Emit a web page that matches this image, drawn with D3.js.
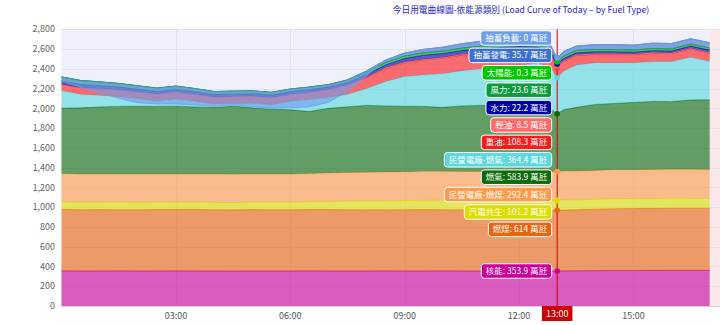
<!DOCTYPE html>
<html><head><meta charset="utf-8">
<script src="https://cdn.jsdelivr.net/npm/d3@7"></script>
<style>
html,body{margin:0;padding:0;background:#fff;}
svg{display:block;font-family:"Noto Sans CJK TC","Noto Sans",sans-serif;}
</style></head><body>
<svg id="c" width="720" height="325"></svg>
<script>
const times = ["00:00","00:30","01:00","01:30","02:00","02:30","03:00","03:30","04:00","04:30","05:00","05:30","06:00","06:30","07:00","07:30","08:00","08:30","09:00","09:30","10:00","10:30","11:00","11:30","12:00","12:30","12:50","13:00","13:10","13:30","14:00","14:30","15:00","15:30","16:00","16:30","17:00"];
const seriesNames = ["核能","燃煤","汽電共生","民營電廠-燃煤","燃氣","民營電廠-燃氣","重油","輕油","水力","風力","太陽能","抽蓄發電","抽蓄負載"];
const nuclear = [356,355,355,356,355,355,356,355,355,354,355,355,355,356,355,355,355,356,355,355,356,355,355,355,354,354,354,353.9,356,356,358,360,360,361,362,362,362];
const coal = [622,620,621,619,620,621,620,622,620,619,621,620,619,620,621,620,619,618,620,621,619,618,617,616,615,615,615,614,616,618,622,625,626,627,628,628,628];
const cogen = [76,75,74,74,73,73,74,73,73,74,73,74,75,78,82,86,88,90,92,94,96,97,98,99,100,101,101,101.2,101,100,100,101,102,101,102,101,100];
const ippCoal = [288,287,287,286,287,288,286,287,288,287,286,287,288,287,289,290,291,292,292,293,292,291,292,293,292,292,292,292.4,292,293,292,293,292,293,292,293,292];
const gas = [660,668,678,685,687,683,686,678,673,688,670,656,648,627,653,665,677,669,663,657,647,664,668,672,669,648,630,583.9,620,643,668,671,680,688,684,701,705];
const ippGas = [178,139,117,98,74,54,73,56,34,25,47,45,86,121,110,128,170,247,300,320,342,356,372,382,405,448,420,364.4,390,429,422,412,401,404,405,433,390];
const heavyOil = [63,65,68,70,72,72,72,72,72,72,72,72,72,75,80,90,110,130,140,150,155,158,160,160,155,130,120,108.3,100,95,85,85,82,82,80,82,80];
const lightOil = [0,0,0,0,0,0,0,0,0,0,0,0,0,0,0,2,5,8,8,8,8,8,8,8,8,8,8,8.5,8,8,8,8,8,8,8,8,8];
const hydro = [35,33,30,28,25,25,25,25,25,25,25,25,25,25,25,24,25,30,35,40,40,38,35,30,28,25,24,22.2,21,20,18,18,18,20,20,22,25];
const wind = [40,40,38,36,35,34,33,32,30,30,28,28,27,26,25,25,24,24,24,24,24,24,24,24,24,24,24,23.6,23,23,22,22,21,21,20,20,20];
const solar = [0,0,0,0,0,0,0,0,0,0,0,0,0.1,0.2,0.3,0.4,0.5,0.5,0.5,0.5,0.5,0.5,0.4,0.4,0.3,0.3,0.3,0.3,0.3,0.3,0.2,0.2,0.2,0.1,0.1,0,0];
const pumpGen = [0,0,0,0,0,0,0,0,0,0,0,0,0,0,0,5,15,25,30,35,40,45,50,50,50,45,45,35.7,48,45,50,50,50,55,55,55,55];
const pumpLoad = [-40,-70,-110,-150,-170,-160,-180,-165,-150,-140,-160,-160,-190,-200,-180,-120,-50,0,0,0,0,0,0,0,0,0,0,0,0,0,0,0,0,0,0,0,0];
const yTicks = [0,200,400,600,800,1000,1200,1400,1600,1800,2000,2200,2400,2600,2800];
const xTicks = ["03:00","06:00","09:00","12:00","15:00"];
const hoverTime = "13:00";
const unit = "萬瓩";
const titleText = "今日用電曲線圖-依能源類別 (Load Curve of Today – by Fuel Type)";

const colors = ["#cc0099","#e8650f","#dddd00","#ff9b48","#0b6a0b","#5ad8de","#ff1a1a","#ff6b6b","#0000a8","#0b9b3b","#00c800","#3a6fd4","#6d9eeb"];
const seriesData = [nuclear,coal,cogen,ippCoal,gas,ippGas,heavyOil,lightOil,hydro,wind,solar,pumpGen,pumpLoad];

const hrs = t => { const p = t.split(":"); return +p[0] + (+p[1])/60; };
const rows = times.map((t,i) => { const r = {t}; seriesNames.forEach((n,k)=> r[n] = seriesData[k][i]); return r; });

const svg = d3.select("#c");
const x = d3.scaleLinear().domain([0,24]).range([61.5, 976.6]);
const y = d3.scaleLinear().domain([0,2800]).range([306, 29.3]);
const plotTop = y(2800), plotBottom = y(0), plotLeft = x(0);
const dataEnd = x(hrs(times[times.length-1]));

svg.append("rect").attr("x",plotLeft).attr("y",plotTop).attr("width",dataEnd-plotLeft).attr("height",plotBottom-plotTop).attr("fill","#f0f0fa");
svg.append("rect").attr("x",dataEnd).attr("y",plotTop).attr("width",720-dataEnd).attr("height",plotBottom-plotTop).attr("fill","#fbe8ea");

svg.append("g").selectAll("line").data(yTicks).join("line")
  .attr("x1",plotLeft).attr("x2",720).attr("y1",d=>Math.round(y(d))+0.5).attr("y2",d=>Math.round(y(d))+0.5)
  .attr("stroke","#e2e2ea").attr("stroke-width",1);
svg.append("g").selectAll("line").data(xTicks).join("line")
  .attr("x1",d=>Math.round(x(hrs(d)))+0.5).attr("x2",d=>Math.round(x(hrs(d)))+0.5).attr("y1",plotTop).attr("y2",plotBottom)
  .attr("stroke","#e2e2ea").attr("stroke-width",1);

const stack = d3.stack().keys(seriesNames).offset(d3.stackOffsetNone);
const layers = stack(rows);
const area = d3.area().x(d=>x(hrs(d.data.t))).y0(d=>y(d[0])).y1(d=>y(d[1]));
const line = d3.line().x(d=>x(hrs(d.data.t))).y(d=>y(d[1]));
const g = svg.append("g");
layers.forEach((L,k)=>{
  g.append("path").attr("d",area(L)).attr("fill",colors[k]).attr("fill-opacity",0.62).attr("stroke","none");
  g.append("path").attr("d",line(L)).attr("fill","none").attr("stroke",colors[k]).attr("stroke-width",1).attr("stroke-opacity",0.8);
});

svg.append("g").selectAll("text").data(yTicks).join("text")
  .attr("x",55).attr("y",d=>y(d)).attr("dy","0.35em").attr("text-anchor","end")
  .attr("font-size",9).attr("fill","#666").text(d=>d3.format(",")(d));
svg.append("line").attr("x1",plotLeft).attr("x2",720).attr("y1",plotBottom+0.5).attr("y2",plotBottom+0.5).attr("stroke","#ccd6eb");

svg.append("g").selectAll("text").data(xTicks).join("text")
  .attr("x",d=>x(hrs(d))).attr("y",319).attr("text-anchor","middle")
  .attr("font-size",9).attr("fill","#555").text(d=>d);

svg.append("text").attr("x",521).attr("y",13).attr("text-anchor","middle").attr("font-size",8.7)
  .attr("fill","#2424cc").text(titleText);

const hi = times.indexOf(hoverTime);
const hx = x(hrs(hoverTime));
svg.append("line").attr("x1",hx).attr("x2",hx).attr("y1",plotTop).attr("y2",plotBottom).attr("stroke","#cc0000").attr("stroke-width",1);

layers.forEach((L,k)=>{
  svg.append("circle").attr("cx",hx).attr("cy",y(L[hi][1])).attr("r",2.8).attr("fill",colors[k]);
});

const xl = svg.append("g");
const xlt = xl.append("text").attr("x",hx).attr("y",317).attr("text-anchor","middle").attr("font-size",9).attr("fill","#fff").text(hoverTime);
const xw = xlt.node().getComputedTextLength()+8;
xl.insert("rect","text").attr("x",hx-xw/2).attr("y",plotBottom).attr("width",xw).attr("height",15).attr("fill","#cc0000");

const pitch = 17.4, boxH = 14.5;
let boxes = layers.map((L,k)=>({k, target:y(L[hi][1]), val: seriesData[k][hi]}));
boxes.sort((a,b)=> a.target-b.target || b.k-a.k);
let groups = boxes.map(b=>({items:[b], top:b.target-pitch/2}));
let changed=true;
while(changed){
  changed=false;
  groups.forEach(gr=>{
    const mean = d3.mean(gr.items,b=>b.target);
    gr.top = mean - gr.items.length*pitch/2;
    gr.top = Math.max(plotTop, Math.min(gr.top, plotBottom - gr.items.length*pitch));
  });
  for(let i=0;i<groups.length-1;i++){
    const a=groups[i], b=groups[i+1];
    if(a.top + a.items.length*pitch > b.top + 0.01){
      a.items = a.items.concat(b.items); groups.splice(i+1,1); changed=true; break;
    }
  }
}
const tipG = svg.append("g");
groups.forEach(gr=>{
  gr.items.forEach((b,j)=>{
    const cy = gr.top + j*pitch + pitch/2;
    const tg = tipG.append("g");
    const txt = tg.append("text").attr("y",cy).attr("dy","0.36em").attr("font-size",8.5).attr("fill","#fff")
      .text(`${seriesNames[b.k]}: ${b.val} ${unit}`);
    const w = txt.node().getComputedTextLength();
    const right = hx - 5.5;
    const bw = w + 9;
    txt.attr("x", right - bw + 4.5);
    tg.insert("rect","text").attr("x",right-bw).attr("y",cy-boxH/2).attr("width",bw).attr("height",boxH)
      .attr("rx",3).attr("fill",colors[b.k]).attr("stroke","#fff").attr("stroke-width",1);
  });
});
</script>
</body></html>
